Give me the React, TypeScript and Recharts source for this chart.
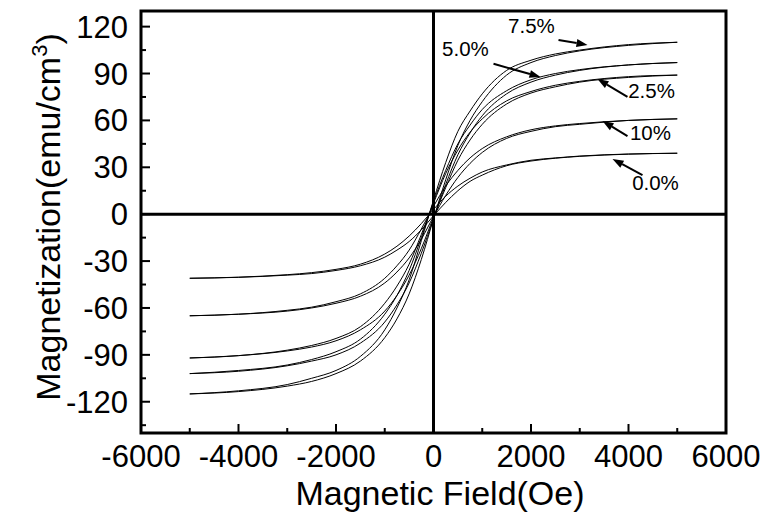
import React from "react";
import { LineChart, Line, XAxis, YAxis, ReferenceLine, ReferenceArea, ReferenceDot, Label } from "recharts";

// applied field (Oe), shared by every branch
const fieldValues = [-5000, -4000, -3000, -2500, -2000, -1500, -1000, -750, -500, -250, 0, 250, 500, 750, 1000, 1500, 2000, 2500, 3000, 4000, 5000];

// magnetization (emu/cm3): "down" = branch coming from +H, "up" = branch coming from -H
const m75Down = [-115, -113, -109, -105, -100, -91, -74, -60, -42, -17, 9, 33, 53, 66, 77, 92, 98.5, 102.5, 105, 108.5, 110];
const m75Up = [-115, -113.5, -110, -107, -102, -94, -79, -67, -51, -29, -3, 22, 44, 60, 72, 89, 97, 101.5, 104.5, 108, 110];
const m50Down = [-102, -100, -96.5, -93, -88, -80, -64, -52, -36, -15, 8, 28, 45, 57, 67, 79, 86, 90, 92.5, 95.5, 97];
const m50Up = [-102, -100.5, -97, -94, -90, -82.5, -69, -58, -44, -25, -3, 19, 38, 52, 63, 77, 84.5, 89, 92, 95.5, 97];
const m25Down = [-92, -90.5, -87, -84, -79.5, -72, -57, -46, -32, -13, 7, 26, 41, 52.5, 61, 72.5, 78.5, 82.5, 85, 88, 89];
const m25Up = [-92, -90.5, -87.5, -85, -81, -74, -62, -52, -39, -22, -2, 17, 34.5, 47.5, 57.5, 70.5, 77.5, 81.5, 84.5, 87.5, 89];
const m10Down = [-65, -64, -61.5, -59.5, -56, -51, -41, -33, -23, -9.5, 5, 18, 28, 36, 42, 49.5, 54, 56.5, 58, 60, 61];
const m10Up = [-65, -64, -62, -60, -57, -52.5, -44, -37, -28, -16, -1.5, 12, 23.5, 32.5, 39.5, 48.5, 53, 56, 57.5, 60, 61];
const m00Down = [-41, -40.3, -38.7, -37.4, -35.3, -32, -25.5, -20.5, -14, -6, 3, 11.5, 18, 23, 27, 31.5, 34.5, 36, 37.2, 38.5, 39];
const m00Up = [-41, -40.4, -39, -38, -36, -33, -27.5, -23, -17.5, -10, -1, 7.5, 15, 21, 25, 31, 34, 35.8, 37, 38.4, 39];

const branches = [m75Down, m75Up, m50Down, m50Up, m25Down, m25Up, m10Down, m10Up, m00Down, m00Up];

const xTicks = [-6000, -5000, -4000, -3000, -2000, -1000, 0, 1000, 2000, 3000, 4000, 5000, 6000];
const yTicks = [-135, -120, -105, -90, -75, -60, -45, -30, -15, 0, 15, 30, 45, 60, 75, 90, 105, 120];

// sample labels and arrows, in data units
const labelTexts = ["7.5%", "5.0%", "2.5%", "10%", "0.0%"];
const labelAt = [[2010, 116], [656, 101], [4472, 74.4], [4451, 47.4], [4554, 15.4]];
const arrowFrom = [[2564, 111.5], [1231, 96.2], [3979, 75], [3979, 50], [4287, 25]];
const arrowTo = [[3159, 108.3], [2195, 87.8], [3364, 86.5], [3467, 59.6], [3672, 35.3]];

const font = "'Liberation Sans', Arial, Helvetica, sans-serif";

const XTick = (props: any) => {
  const { x, y, payload } = props;
  const v = payload.value;
  const major = v % 2000 === 0;
  return (
    <g>
      <line x1={x} y1={y} x2={x} y2={y - (major ? 9 : 5)} stroke="#000" strokeWidth={2} />
      {major && (
        <text x={x} y={y + 34} textAnchor="middle" fontSize={31} fontFamily={font} fill="#000">
          {v}
        </text>
      )}
    </g>
  );
};

const YTick = (props: any) => {
  const { x, y, payload } = props;
  const v = payload.value;
  const major = v % 30 === 0;
  return (
    <g>
      <line x1={x} y1={y} x2={x + (major ? 9 : 5)} y2={y} stroke="#000" strokeWidth={2} />
      {major && (
        <text x={x - 13} y={y + 11} textAnchor="end" fontSize={31} fontFamily={font} fill="#000">
          {v}
        </text>
      )}
    </g>
  );
};

const Arrow = (props: any) => {
  const { x1, y1, x2, y2 } = props;
  const dx = x2 - x1;
  const dy = y2 - y1;
  const len = Math.sqrt(dx * dx + dy * dy) || 1;
  const ux = dx / len;
  const uy = dy / len;
  const bx = x2 - ux * 11;
  const by = y2 - uy * 11;
  const pts = `${x2},${y2} ${bx - uy * 4},${by + ux * 4} ${bx + uy * 4},${by - ux * 4}`;
  return (
    <g>
      <line x1={x1} y1={y1} x2={bx} y2={by} stroke="#000" strokeWidth={2} />
      <polygon points={pts} fill="#000" />
    </g>
  );
};

export default function App() {
  return (
    <div style={{ position: "absolute", left: 0, top: 0 }}>
      <LineChart width={763} height={512} margin={{ top: 11, right: 37, bottom: 0, left: 0 }}>
        <XAxis
          type="number"
          dataKey="h"
          domain={[-6000, 6000]}
          ticks={xTicks}
          interval={0}
          tickSize={0}
          tickMargin={0}
          axisLine={false}
          tickLine={false}
          tick={<XTick />}
          height={79}
          allowDuplicatedCategory={false}
        >
          <Label
            content={() => (
              <text x={440} y={505} textAnchor="middle" fontSize={34} fontFamily={font} fill="#000">
                Magnetic Field(Oe)
              </text>
            )}
          />
        </XAxis>
        <YAxis
          type="number"
          domain={[-140, 130]}
          ticks={yTicks}
          interval={0}
          tickSize={0}
          tickMargin={0}
          axisLine={false}
          tickLine={false}
          tick={<YTick />}
          width={141}
        >
          <Label
            content={() => (
              <text
                x={60}
                y={217}
                transform="rotate(-90 60 217)"
                textAnchor="middle"
                fontSize={34}
                fontFamily={font}
                fill="#000"
              >
                Magnetization(emu/cm
                <tspan dy={-13} fontSize={22}>3</tspan>
                <tspan dy={13}>)</tspan>
              </text>
            )}
          />
        </YAxis>
        <ReferenceArea x1={-6000} x2={6000} y1={-140} y2={130} fill="none" stroke="#000" strokeWidth={3} />
        <ReferenceLine x={0} stroke="#000" strokeWidth={3} />
        <ReferenceLine y={0} stroke="#000" strokeWidth={3} />
        {branches.map((arr, i) => (
          <Line
            key={i}
            data={fieldValues.map((h, j) => ({ h, m: arr[j] }))}
            dataKey="m"
            type="monotone"
            stroke="#000"
            strokeWidth={1}
            dot={false}
            isAnimationActive={false}
          />
        ))}
        {labelTexts.map((t, i) => (
          <ReferenceLine
            key={"a" + i}
            segment={[
              { x: arrowFrom[i][0], y: arrowFrom[i][1] },
              { x: arrowTo[i][0], y: arrowTo[i][1] },
            ]}
            shape={<Arrow />}
          />
        ))}
        {labelTexts.map((t, i) => (
          <ReferenceDot
            key={"l" + i}
            x={labelAt[i][0]}
            y={labelAt[i][1]}
            r={0}
            shape={(p: any) => (
              <text x={p.cx} y={p.cy} textAnchor="middle" fontSize={20.5} fontFamily={font} fill="#000">
                {t}
              </text>
            )}
          />
        ))}
      </LineChart>
    </div>
  );
}
